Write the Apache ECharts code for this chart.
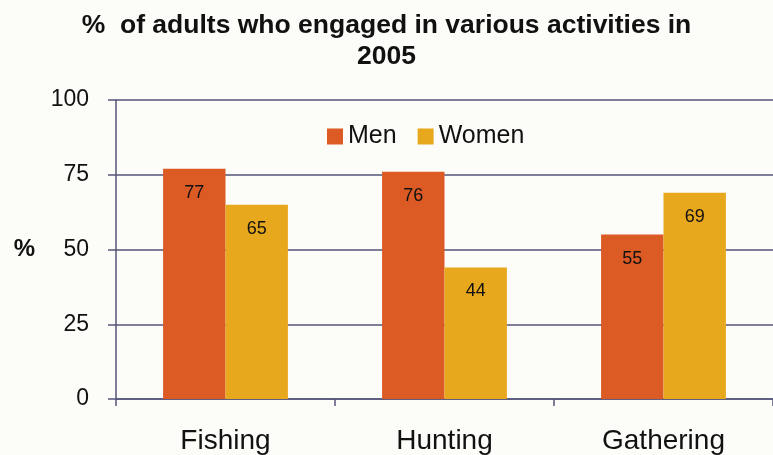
<!DOCTYPE html>
<html>
<head>
<meta charset="utf-8">
<script src="https://cdn.jsdelivr.net/npm/echarts@6/dist/echarts.min.js"></script>
<style>
  html, body { margin: 0; padding: 0; background: #fcfcf8; }
  #chart { width: 773px; height: 455px; }
</style>
</head>
<body>
<div id="chart"></div>
<script>
const categories = ['Fishing', 'Hunting', 'Gathering'];
const menValues = [77, 76, 55];
const womenValues = [65, 44, 69];
const yTicks = [0, 25, 50, 75, 100];

const axisColor = '#55557a';
const font = '"Liberation Sans", Arial, sans-serif';

const chart = echarts.init(document.getElementById('chart'));
chart.setOption({
  backgroundColor: '#fcfcf8',
  animation: false,
  title: {
    text: '%  of adults who engaged in various activities in\n2005',
    left: 'center',
    top: 5,
    textStyle: {
      fontFamily: font,
      fontWeight: 'bold',
      fontSize: 26.5,
      lineHeight: 31,
      color: '#111'
    }
  },
  legend: {
    top: 119,
    left: 322,
    itemWidth: 16,
    itemHeight: 16,
    itemGap: 21,
    icon: 'rect',
    textStyle: { fontFamily: font, fontSize: 25, color: '#111' },
    data: ['Men', 'Women']
  },
  grid: { left: 116, right: -9, top: 100, bottom: 54 },
  xAxis: {
    type: 'category',
    data: categories,
    axisLine: { lineStyle: { color: axisColor, width: 1.5 } },
    axisTick: { show: true, length: 7, lineStyle: { color: axisColor, width: 1.5 } },
    axisLabel: { fontFamily: font, fontSize: 28, color: '#111', margin: 28 }
  },
  yAxis: {
    type: 'value',
    min: yTicks[0],
    max: yTicks[yTicks.length - 1],
    interval: 25,
    name: '%',
    nameLocation: 'middle',
    nameRotate: 0,
    nameGap: 81,
    nameTextStyle: { fontFamily: font, fontSize: 24, fontWeight: 'bold', color: '#111' },
    axisLine: { show: true, lineStyle: { color: axisColor, width: 1.5 } },
    axisTick: { show: true, length: 8, lineStyle: { color: axisColor, width: 1.5 } },
    axisLabel: { fontFamily: font, fontSize: 23, color: '#111', margin: 27 },
    splitLine: { show: true, lineStyle: { color: axisColor, width: 1.5 } }
  },
  series: [
    {
      name: 'Men',
      type: 'bar',
      data: menValues,
      barGap: '0%',
      barCategoryGap: '43%',
      itemStyle: { color: '#dc5a24' },
      label: {
        show: true, position: 'insideTop', distance: 15,
        fontFamily: font, fontSize: 18, color: '#111'
      }
    },
    {
      name: 'Women',
      type: 'bar',
      data: womenValues,
      itemStyle: { color: '#e8a81e' },
      label: {
        show: true, position: 'insideTop', distance: 15,
        fontFamily: font, fontSize: 18, color: '#111'
      }
    }
  ]
});
</script>
</body>
</html>
